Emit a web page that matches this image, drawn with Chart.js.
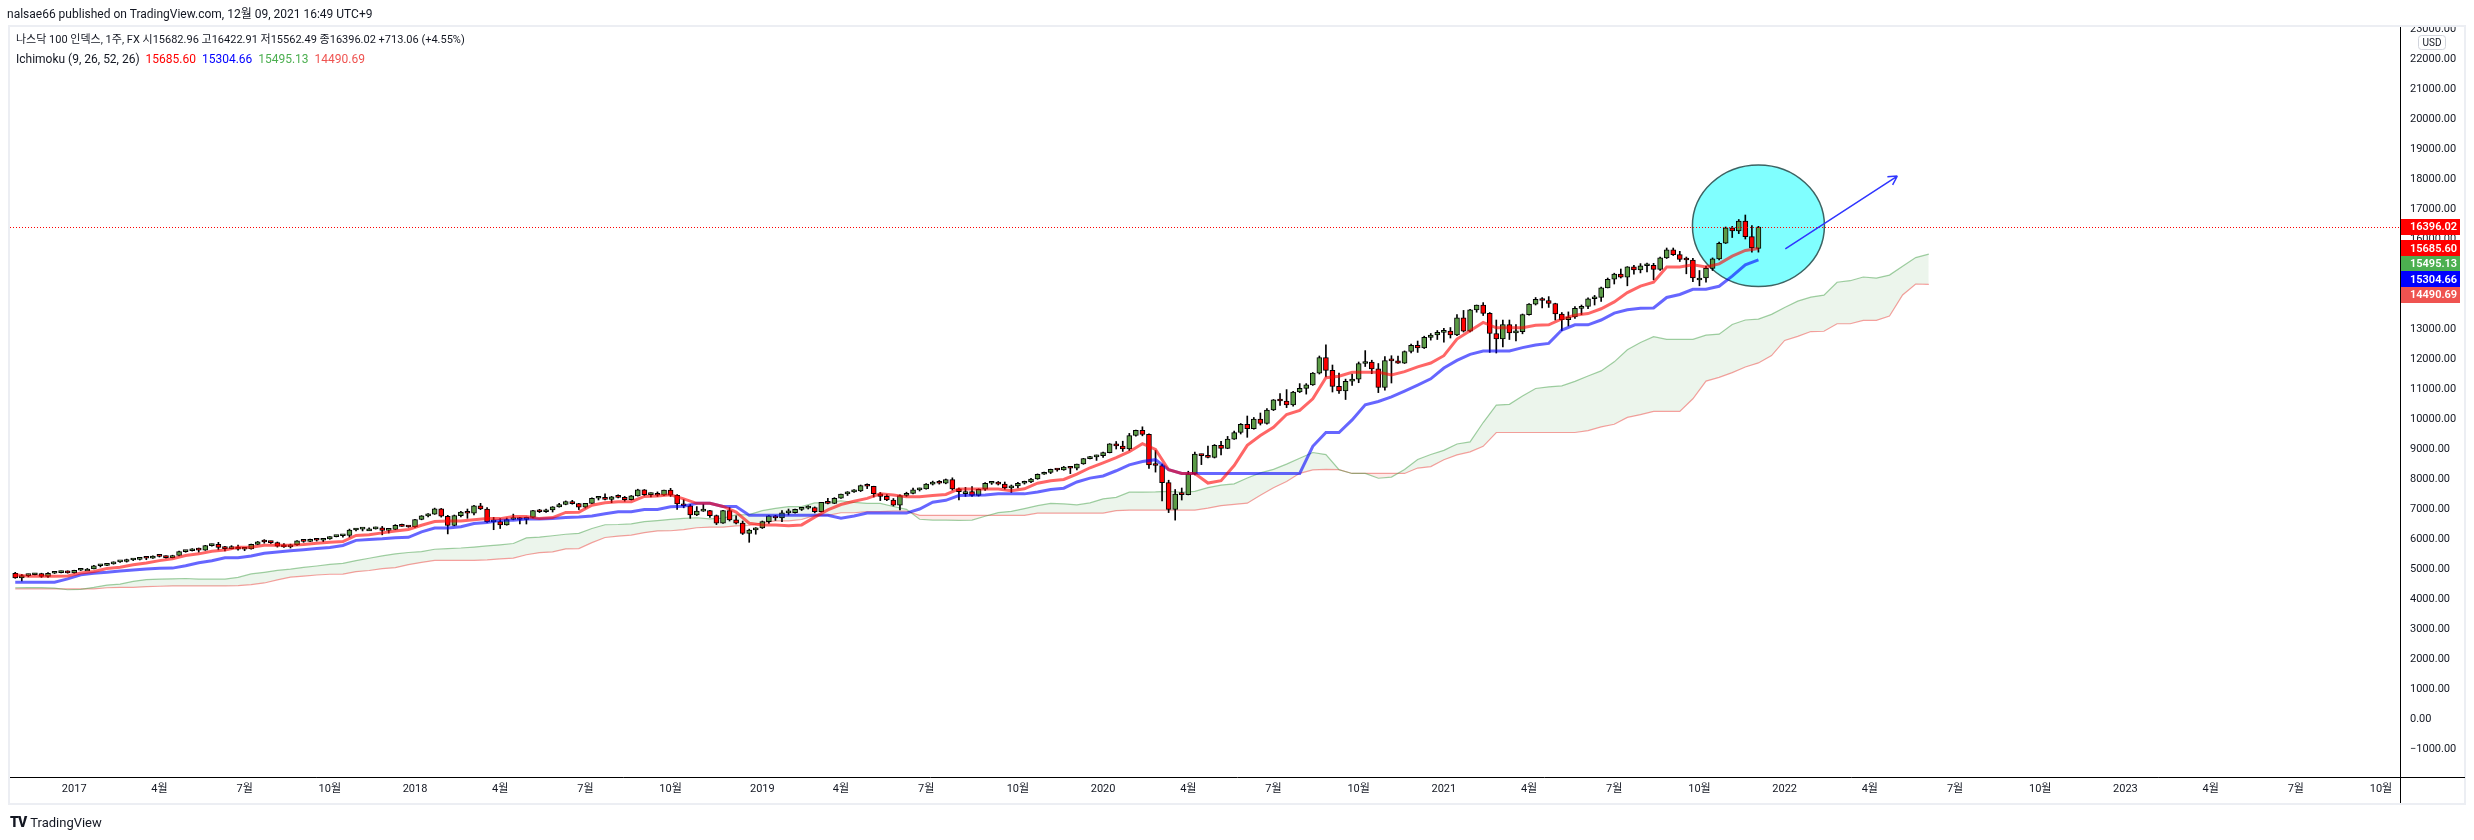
<!DOCTYPE html>
<html>
<head>
<meta charset="utf-8">
<script src="https://cdn.jsdelivr.net/npm/chart.js@4.4.0/dist/chart.umd.min.js"></script>
<style>
  body { margin: 0; background: #fff; width: 2474px; height: 840px; overflow: hidden; position: relative;
         font-family: Roboto, "Noto Sans CJK KR", sans-serif; color: #131722; }
  #wrap { position: absolute; left: 0; top: 0; width: 2474px; height: 840px; }
  .t { position: absolute; white-space: pre; font-size: 12px; line-height: 16px; }
  .logo { font-weight: 900; font-size: 14px; letter-spacing: -1px; margin-right: 4px; }
</style>
</head>
<body>
<div id="wrap"><canvas id="chart" width="2474" height="840"></canvas></div>
<div class="t" style="left:7px;top:6px">nalsae66 published on TradingView.com, 12월 09, 2021 16:49 UTC+9</div>
<div class="t" id="legend1" style="left:16px;top:32px;font-size:11px"></div>
<div class="t" id="legend2" style="left:16px;top:51px"></div>
<div class="t" style="left:10px;top:814px;font-size:13px"><span class="logo">TV</span>TradingView</div>
<script>
// weekly bars, first bar = week of 2016-10-31
const startDate = Date.UTC(2016, 9, 31);

const opens = [
  4860,4700,4780,4810,4850,4750,4860,4880,4910,4870,
  4960,5000,5000,5110,5120,5170,5240,5250,5300,5320,
  5370,5360,5430,5420,5380,5450,5580,5610,5660,5630,
  5780,5820,5720,5680,5730,5660,5670,5820,5910,5900,
  5880,5760,5740,5800,5940,5920,5990,5960,6000,6080,
  6110,6120,6300,6330,6340,6340,6370,6290,6320,6460,
  6420,6400,6650,6770,6830,7010,6760,6450,6780,6900,
  6860,7110,7000,6570,6580,6470,6650,6680,6650,6720,
  6950,6910,6970,7070,7150,7250,7180,7060,7190,7360,
  7370,7320,7410,7390,7310,7440,7640,7480,7520,7460,
  7630,7460,7170,7110,6800,6930,6950,6780,6530,6950,
  6640,6530,6190,6300,6370,6580,6770,6700,6870,6880,
  6990,7030,7050,6910,7220,7190,7360,7500,7570,7600,
  7780,7760,7510,7420,7300,7130,7450,7520,7640,7670,
  7830,7900,7860,7980,7670,7580,7580,7450,7660,7860,
  7880,7830,7700,7770,7860,7900,8000,8160,8220,8320,
  8300,8400,8360,8500,8680,8740,8780,8880,9170,9100,
  9000,9450,9620,9490,8470,8450,7880,6990,7500,7480,
  8170,8830,8780,8720,9120,9020,9330,9550,9820,9680,
  10000,9850,10300,10640,10600,10470,10900,11020,11140,11530,
  12050,11620,11090,10940,11260,11330,11850,11900,11670,11050,
  11950,11940,11860,12250,12460,12370,12720,12800,12890,12930,
  12800,13370,12930,13640,13800,13520,12850,12670,13150,12870,
  12910,13480,13830,13990,13950,13850,13500,13310,13400,13690,
  13750,14010,14050,14370,14660,14830,14730,15070,14970,15110,
  15120,14990,15370,15640,15480,15320,15300,14700,14700,15020,
  15340,15860,16370,16270,16600,16080,15682.96
];
const highs = [
  4890,4820,4830,4860,4860,4880,4920,4930,4940,4960,
  5010,5020,5120,5140,5180,5240,5260,5330,5330,5370,
  5400,5440,5450,5440,5460,5600,5620,5680,5700,5790,
  5830,5890,5760,5780,5800,5700,5830,5920,5980,5930,
  5900,5850,5830,5950,5960,6000,6010,6010,6080,6120,
  6130,6330,6350,6370,6370,6400,6420,6340,6480,6500,
  6440,6660,6780,6850,7030,7020,6790,6800,6920,7000,
  7120,7190,7050,6720,6680,6700,6830,6720,6730,6960,
  6990,7000,7080,7190,7270,7290,7190,7190,7370,7410,
  7510,7420,7470,7420,7450,7660,7650,7540,7570,7630,
  7690,7480,7310,7150,7080,7160,6960,6800,6960,7050,
  6770,6600,6330,6380,6600,6780,6790,6950,7000,7000,
  7050,7110,7070,7220,7360,7380,7500,7580,7650,7800,
  7840,7760,7550,7480,7350,7470,7560,7700,7700,7850,
  7930,7950,8000,8040,7700,7720,7750,7670,7880,7920,
  7920,7900,7800,7890,7930,8020,8170,8230,8330,8340,
  8420,8420,8500,8690,8760,8800,8900,9180,9250,9260,
  9520,9630,9740,9510,8950,8500,7960,7650,7700,8260,
  8900,8830,9100,9150,9260,9420,9600,9850,10100,10050,
  10200,10350,10650,10850,10980,10920,11180,11180,11550,12100,
  12470,11800,11530,11330,11500,11900,12280,11960,11850,12080,
  12110,12100,12270,12500,12600,12760,12850,12950,13020,13050,
  13480,13620,13660,13800,13880,13550,13300,13300,13300,13150,
  13500,13850,14050,14050,14080,13860,13550,13570,13750,13800,
  14040,14120,14400,14700,14860,15000,15080,15120,15180,15200,
  15190,15400,15700,15700,15590,15400,15360,14950,15100,15370,
  15900,16400,16420,16650,16800,16450,16422.91
];
const lows = [
  4690,4600,4740,4800,4720,4720,4850,4870,4860,4860,
  4950,4980,5000,5070,5110,5160,5220,5230,5280,5300,
  5310,5350,5400,5360,5370,5440,5560,5600,5560,5620,
  5760,5640,5600,5670,5630,5610,5660,5810,5860,5850,
  5730,5720,5700,5790,5890,5910,5930,5910,5990,6070,
  6060,6060,6270,6270,6280,6330,6140,6200,6310,6420,
  6390,6390,6640,6740,6820,6730,6170,6440,6740,6690,
  6800,6980,6550,6310,6350,6460,6640,6500,6500,6700,
  6880,6890,6900,7060,7140,7160,6980,7030,7180,7300,
  7300,7210,7370,7260,7300,7430,7440,7400,7420,7450,
  7420,6990,7040,6690,6780,6920,6720,6480,6520,6600,
  6500,6150,5890,6160,6350,6520,6620,6580,6800,6860,
  6950,7000,6870,6900,7170,7180,7350,7450,7550,7580,
  7680,7400,7280,7280,7100,6970,7420,7500,7600,7660,
  7800,7830,7840,7630,7300,7420,7420,7430,7620,7820,
  7800,7660,7550,7700,7830,7880,7990,8150,8180,8260,
  8290,8180,8300,8490,8670,8620,8720,8870,9000,8920,
  8950,9430,9440,8350,8230,7270,6880,6630,7300,7470,
  8140,8480,8700,8700,8800,9010,9320,9500,9390,9660,
  9800,9830,10280,10450,10380,10430,10880,10830,11120,11500,
  11400,10900,10850,10650,11120,11210,11750,11510,10880,10960,
  11200,11850,11850,12200,12220,12350,12630,12650,12560,12700,
  12780,12900,12900,13560,13450,12220,12200,12400,12650,12600,
  12840,13460,13800,13700,13720,13300,12950,13100,13350,13480,
  13680,13800,13920,14370,14500,14700,14440,14830,14870,14900,
  14640,14950,15350,15450,15250,14840,14580,14440,14560,14950,
  15300,15850,16050,16180,16000,15560,15562.49
];
const closes = [
  4700,4780,4810,4850,4750,4860,4880,4910,4870,4960,
  5000,5000,5110,5120,5170,5240,5250,5300,5320,5370,
  5360,5430,5420,5380,5450,5580,5610,5660,5630,5780,
  5820,5720,5680,5730,5660,5670,5820,5910,5900,5880,
  5760,5740,5800,5940,5920,5990,5960,6000,6080,6110,
  6120,6300,6330,6340,6340,6370,6290,6320,6460,6420,
  6400,6650,6770,6830,7010,6760,6450,6780,6900,6860,
  7110,7000,6570,6580,6470,6650,6680,6650,6720,6950,
  6910,6970,7070,7150,7250,7180,7060,7190,7360,7370,
  7320,7410,7390,7310,7440,7640,7480,7520,7460,7630,
  7460,7170,7110,6800,6930,6950,6780,6530,6950,6640,
  6530,6190,6300,6370,6580,6770,6700,6870,6880,6990,
  7030,7050,6910,7220,7190,7360,7500,7570,7600,7780,
  7760,7510,7420,7300,7130,7450,7520,7640,7670,7830,
  7900,7860,7980,7670,7580,7580,7450,7660,7860,7880,
  7830,7700,7770,7860,7900,8000,8160,8220,8320,8300,
  8400,8360,8500,8680,8740,8780,8880,9170,9100,9000,
  9450,9620,9490,8470,8450,7880,6990,7500,7480,8170,
  8830,8780,8720,9120,9020,9330,9550,9820,9680,10000,
  9850,10300,10640,10600,10470,10900,11020,11140,11530,12050,
  11620,11090,10940,11260,11330,11850,11900,11670,11050,11950,
  11940,11860,12250,12460,12370,12720,12800,12890,12930,12800,
  13370,12930,13640,13800,13520,12850,12670,13150,12870,12910,
  13480,13830,13990,13950,13850,13500,13310,13400,13690,13750,
  14010,14050,14370,14660,14830,14730,15070,14970,15110,15120,
  14990,15370,15640,15480,15320,15300,14700,14700,15020,15340,
  15860,16370,16270,16600,16080,15700,16396.02
];

// ichimoku lines, one value every 2 bars (spans run 26 bars past the last candle)
const lineStep = 2;
const tenkan = [
  4805,4760,4760,4760,4770,4865,4920,5015,5060,5140,
  5200,5280,5340,5450,5505,5595,5630,5725,5725,5790,
  5790,5795,5820,5855,5890,5915,6120,6140,6205,6270,
  6320,6460,6585,6600,6600,6645,6680,6680,6750,6750,
  6680,6715,6885,6895,7125,7205,7245,7245,7420,7435,
  7475,7340,7190,7190,7085,6895,6525,6470,6470,6445,
  6470,6730,6970,7150,7260,7355,7505,7470,7405,7405,
  7450,7485,7670,7670,7670,7670,7610,7675,7860,7940,
  7985,8165,8375,8540,8715,8910,9180,8985,8310,8185,
  8185,7865,7945,8450,9120,9450,9725,10150,10285,10675,
  11375,11425,11560,11560,11560,11465,11580,11740,11865,12110,
  12665,12940,13220,13040,13040,13040,13125,13140,13340,13460,
  13515,13675,13905,14215,14430,14560,15070,15070,15140,15070,
  15170,15430,15620,15685.60
];
const kijun = [
  4560,4560,4560,4560,4670,4805,4860,4890,4930,4965,
  5000,5025,5030,5110,5210,5275,5375,5375,5435,5525,
  5570,5605,5640,5680,5720,5785,5955,5985,6010,6045,
  6055,6240,6365,6365,6410,6515,6550,6625,6625,6665,
  6665,6680,6720,6730,6770,6840,6910,6910,6985,6985,
  7075,7095,7190,7190,7085,7085,6790,6790,6790,6790,
  6790,6790,6790,6695,6770,6865,6865,6865,6865,7000,
  7225,7290,7450,7455,7470,7505,7505,7505,7570,7650,
  7695,7900,8030,8100,8275,8470,8585,8645,8310,8185,
  8185,8185,8185,8185,8185,8185,8185,8185,8185,9090,
  9550,9550,9970,10475,10585,10740,10930,11130,11340,11700,
  11955,12155,12265,12265,12265,12380,12465,12520,12965,13140,
  13140,13300,13530,13640,13690,13700,14050,14150,14325,14325,
  14425,14760,15140,15304.66
];
const spanA = [
  4375,4383,4378,4365,4308,4323,4388,4463,4498,4590,
  4648,4663,4673,4683,4660,4660,4660,4720,4835,4890,
  4953,4995,5053,5100,5153,5185,5280,5358,5435,5503,
  5550,5580,5658,5680,5700,5730,5768,5805,5850,6038,
  6063,6108,6158,6188,6350,6475,6483,6505,6580,6615,
  6653,6688,6708,6673,6698,6803,6813,6948,7023,7078,
  7078,7203,7210,7275,7218,7190,7190,7085,6990,6658,
  6630,6630,6618,6630,6760,6880,6923,7015,7110,7185,
  7168,7135,7203,7338,7388,7560,7563,7570,7588,7558,
  7590,7715,7795,7840,8033,8203,8320,8495,8690,8883,
  8815,8310,8185,8185,8025,8065,8318,8653,8818,8955,
  9168,9235,9883,10463,10488,10765,11018,11073,11103,11255,
  11435,11603,11905,12310,12548,12743,12653,12653,12653,12795,
  12830,13153,13300,13328,13488,13718,13928,14060,14130,14560,
  14610,14733,14698,14798,15095,15380,15495.13
];
const spanB = [
  4335,4335,4335,4335,4335,4335,4335,4375,4385,4390,
  4410,4425,4435,4435,4435,4435,4435,4445,4480,4535,
  4640,4730,4765,4800,4825,4830,4910,4950,5015,5045,
  5145,5220,5290,5290,5290,5290,5305,5340,5365,5475,
  5545,5570,5670,5680,5880,6050,6095,6130,6210,6270,
  6275,6315,6375,6395,6395,6440,6450,6535,6605,6605,
  6650,6785,6785,6875,6875,6915,6915,6930,6930,6790,
  6790,6790,6790,6790,6790,6790,6790,6790,6865,6865,
  6865,6865,6865,6865,6945,6965,6965,6965,6965,6965,
  6965,7030,7110,7155,7195,7460,7710,7915,8190,8305,
  8320,8310,8185,8185,8185,8185,8185,8365,8415,8640,
  8805,8905,9090,9550,9550,9550,9550,9550,9550,9550,
  9615,9740,9825,10055,10145,10255,10255,10255,10675,11265,
  11390,11545,11735,11870,12115,12620,12755,12915,12925,13175,
  13175,13290,13290,13430,14135,14500,14490.69
];

// x-axis labels (first weekly bar of each month shown)
const tickMonths = [
  '2017-01','2017-04','2017-07','2017-10','2018-01','2018-04','2018-07','2018-10',
  '2019-01','2019-04','2019-07','2019-10','2020-01','2020-04','2020-07','2020-10',
  '2021-01','2021-04','2021-07','2021-10','2022-01','2022-04','2022-07','2022-10',
  '2023-01','2023-04','2023-07','2023-10'
];
const tickLabels = [
  '2017','4월','7월','10월','2018','4월','7월','10월',
  '2019','4월','7월','10월','2020','4월','7월','10월',
  '2021','4월','7월','10월','2022','4월','7월','10월',
  '2023','4월','7월','10월'
];
// price axis labels
const priceTicks = [
  -1000, 0, 1000, 2000, 3000, 4000, 5000, 6000, 7000, 8000, 9000, 10000, 11000, 12000,
  13000, 14000, 15000, 16000, 17000, 18000, 19000, 20000, 21000, 22000, 23000
];

// drawings (in bar index / price units)
const circle = { x: 266, y: 16440, rx: 10.07, ry: 2027 };
const arrow = { from: [270.1, 15670], to: [287.2, 18100] };

const weekMs = 7 * 864e5;
const tickIdx = tickMonths.map(m => {
  const [yy, mm] = m.split('-').map(Number);
  return Math.ceil((Date.UTC(yy, mm - 1, 1) - startDate) / weekMs);
});

const last = closes.length - 1;
const upColor = '#5b9b47', downColor = '#ff0000';
const fmt = v => v.toFixed(2);
const chg = closes[last] - opens[last];

document.getElementById('legend1').textContent =
  '나스닥 100 인덱스, 1주, FX 시' + fmt(opens[last]) + ' 고' + fmt(highs[last]) +
  ' 저' + fmt(lows[last]) + ' 종' + fmt(closes[last]) + ' +' + fmt(chg) +
  ' (+' + (chg / opens[last] * 100).toFixed(2) + '%)';
document.getElementById('legend2').innerHTML =
  'Ichimoku (9, 26, 52, 26)  <span style="color:#ff0000">' + fmt(tenkan[tenkan.length - 1]) +
  '</span>  <span style="color:#0000ff">' + fmt(kijun[kijun.length - 1]) +
  '</span>  <span style="color:#4caf50">' + fmt(spanA[spanA.length - 1]) +
  '</span>  <span style="color:#ef5350">' + fmt(spanB[spanB.length - 1]) + '</span>';

const idx = closes.map((_, i) => i);
const bodies = idx.map(i => ({ x: i, y: [opens[i], closes[i]] }));
const wicks = idx.map(i => ({ x: i, y: [lows[i], highs[i]] }));
const toPts = arr => arr.map((v, k) => ({ x: k * lineStep, y: v }));
const candleColor = c => closes[c.dataIndex] >= opens[c.dataIndex] ? upColor : downColor;

const decor = {
  id: 'decor',
  beforeDatasetsDraw(chart) {
    const { ctx, scales: { x, y } } = chart;
    const cx = x.getPixelForValue(circle.x), cy = y.getPixelForValue(circle.y);
    const rx = x.getPixelForValue(circle.x + circle.rx) - cx;
    const ry = cy - y.getPixelForValue(circle.y + circle.ry);
    ctx.save();
    ctx.beginPath();
    ctx.ellipse(cx, cy, rx, ry, 0, 0, Math.PI * 2);
    ctx.fillStyle = '#80ffff';
    ctx.fill();
    ctx.lineWidth = 1.5;
    ctx.strokeStyle = '#3d6363';
    ctx.stroke();
    ctx.restore();
  },
  afterDatasetsDraw(chart) {
    const { ctx, chartArea: a, scales: { x, y } } = chart;
    ctx.save();
    // last price dotted line
    const py = Math.round(y.getPixelForValue(closes[last])) + 0.5;
    ctx.setLineDash([1, 2]);
    ctx.strokeStyle = '#ff0000';
    ctx.lineWidth = 1;
    ctx.beginPath();
    ctx.moveTo(a.left, py);
    ctx.lineTo(a.right, py);
    ctx.stroke();
    ctx.setLineDash([]);
    // arrow
    const x1 = x.getPixelForValue(arrow.from[0]), y1 = y.getPixelForValue(arrow.from[1]);
    const x2 = x.getPixelForValue(arrow.to[0]), y2 = y.getPixelForValue(arrow.to[1]);
    const ang = Math.atan2(y2 - y1, x2 - x1);
    ctx.strokeStyle = '#2f35ff';
    ctx.lineWidth = 1.5;
    ctx.beginPath();
    ctx.moveTo(x1, y1);
    ctx.lineTo(x2, y2);
    for (const d of [-0.5, 0.5]) {
      ctx.moveTo(x2, y2);
      ctx.lineTo(x2 - 10 * Math.cos(ang + d), y2 - 10 * Math.sin(ang + d));
    }
    ctx.stroke();
    ctx.restore();
  },
  afterDraw(chart) {
    const { ctx, chartArea: a, scales: { y } } = chart;
    ctx.save();
    // hide the part of the top label above the pane
    ctx.fillStyle = '#fff';
    ctx.fillRect(a.right + 1, 0, 2474 - a.right, a.top - 1);
    // frame
    ctx.strokeStyle = '#eceef3';
    ctx.lineWidth = 2;
    ctx.strokeRect(9, 26, 2456, 778);
    // axis lines
    ctx.strokeStyle = '#000';
    ctx.lineWidth = 1;
    ctx.beginPath();
    ctx.moveTo(a.right + 0.5, a.top);
    ctx.lineTo(a.right + 0.5, 803);
    ctx.moveTo(a.left, a.bottom + 0.5);
    ctx.lineTo(2465, a.bottom + 0.5);
    ctx.stroke();
    // USD badge
    ctx.beginPath();
    ctx.roundRect(2418.5, 35.5, 27, 14, 3);
    ctx.fillStyle = '#fff';
    ctx.fill();
    ctx.strokeStyle = '#d1d4dc';
    ctx.stroke();
    ctx.fillStyle = '#131722';
    ctx.font = '10px Roboto, sans-serif';
    ctx.textAlign = 'center';
    ctx.textBaseline = 'middle';
    ctx.fillText('USD', 2432, 43);
    // price tags
    const tags = [
      { v: closes[last], c: '#ff0000' },
      { v: tenkan[tenkan.length - 1], c: '#ff0000' },
      { v: spanA[spanA.length - 1], c: '#4caf50' },
      { v: kijun[kijun.length - 1], c: '#0000ff' },
      { v: spanB[spanB.length - 1], c: '#ef5350' }
    ];
    let prev = -Infinity;
    ctx.textAlign = 'left';
    ctx.font = '600 11px Roboto, sans-serif';
    for (const t of tags) {
      let cy = y.getPixelForValue(t.v);
      if (cy < prev + 15.5) cy = prev + 15.5;
      prev = cy;
      ctx.fillStyle = t.c;
      ctx.fillRect(a.right + 1, Math.round(cy - 8), 59, 16);
      ctx.fillStyle = '#fff';
      ctx.fillText(fmt(t.v), a.right + 10, cy + 0.5);
    }
    ctx.restore();
  }
};

Chart.defaults.font.family = 'Roboto, "Noto Sans CJK KR", sans-serif';
Chart.defaults.color = '#131722';

new Chart(document.getElementById('chart'), {
  type: 'bar',
  data: {
    datasets: [
      {
        type: 'line', data: toPts(spanA), order: 6,
        borderColor: 'rgba(67,160,71,0.5)', borderWidth: 1.2, pointRadius: 0,
        fill: { target: 1, above: 'rgba(67,160,71,0.1)', below: 'rgba(244,67,54,0.1)' }
      },
      {
        type: 'line', data: toPts(spanB), order: 6,
        borderColor: 'rgba(239,83,80,0.55)', borderWidth: 1.2, pointRadius: 0, fill: false
      },
      {
        data: wicks, order: 4, grouped: false, barThickness: 1,
        backgroundColor: '#000'
      },
      {
        data: bodies, order: 3, grouped: false, barThickness: 5, minBarLength: 2,
        backgroundColor: candleColor, borderColor: '#000', borderWidth: 1, borderSkipped: false
      },
      {
        type: 'line', data: toPts(kijun), order: 2,
        borderColor: 'rgba(0,0,255,0.6)', borderWidth: 3, pointRadius: 0, fill: false
      },
      {
        type: 'line', data: toPts(tenkan), order: 1,
        borderColor: 'rgba(255,0,0,0.6)', borderWidth: 3, pointRadius: 0, fill: false
      }
    ]
  },
  options: {
    responsive: false,
    devicePixelRatio: 1,
    animation: false,
    layout: { padding: { left: 10, right: 9, top: 27, bottom: 37 } },
    plugins: { legend: { display: false }, tooltip: { enabled: false } },
    scales: {
      x: {
        type: 'linear', offset: false, min: -0.8, max: 363.9,
        grid: { display: false, drawTicks: false }, border: { display: false },
        afterBuildTicks: s => { s.ticks = tickIdx.map(v => ({ value: v })); },
        afterFit: s => { s.height = 26; },
        ticks: {
          autoSkip: false, maxRotation: 0, padding: 6,
          font: { size: 11 }, color: '#131722',
          callback: (v, i) => tickLabels[i]
        }
      },
      y: {
        position: 'right', min: -1933, max: 23067,
        grid: { display: false, drawTicks: false }, border: { display: false },
        afterBuildTicks: s => { s.ticks = priceTicks.map(v => ({ value: v })); },
        afterFit: s => { s.width = 65; },
        ticks: {
          autoSkip: false, padding: 10,
          font: { size: 11 }, color: '#131722',
          callback: v => v.toFixed(2).replace('-', '\u2212')
        }
      }
    }
  },
  plugins: [decor]
});
</script>
</body>
</html>
